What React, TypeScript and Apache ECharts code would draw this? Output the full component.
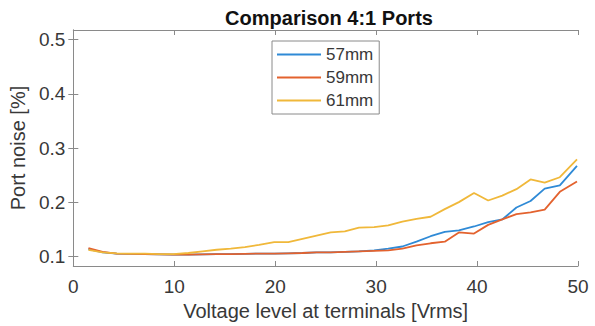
import React, { useEffect, useRef } from "react";
import * as echarts from "echarts";

const voltage = [1.5, 2.9, 4.3, 5.7, 7.1, 8.5, 9.9, 11.4, 12.8, 14.2, 15.6, 17.0, 18.4, 19.9, 21.3, 22.7, 24.1, 25.5, 26.9, 28.3, 29.8, 31.2, 32.6, 34.0, 35.4, 36.8, 38.2, 39.7, 41.1, 42.5, 43.9, 45.3, 46.7, 48.2, 49.9];

const noise57 = [0.113, 0.107, 0.105, 0.1045, 0.104, 0.1035, 0.103, 0.103, 0.1035, 0.104, 0.104, 0.1045, 0.105, 0.105, 0.1055, 0.106, 0.107, 0.107, 0.108, 0.109, 0.111, 0.114, 0.118, 0.127, 0.137, 0.145, 0.148, 0.155, 0.163, 0.168, 0.190, 0.202, 0.225, 0.231, 0.267];

const noise59 = [0.115, 0.108, 0.105, 0.1045, 0.104, 0.1035, 0.103, 0.103, 0.1035, 0.104, 0.104, 0.1045, 0.105, 0.105, 0.1055, 0.106, 0.107, 0.107, 0.108, 0.109, 0.110, 0.111, 0.114, 0.120, 0.124, 0.127, 0.144, 0.142, 0.158, 0.168, 0.178, 0.181, 0.186, 0.219, 0.238];

const noise61 = [0.112, 0.107, 0.1055, 0.105, 0.105, 0.104, 0.104, 0.106, 0.109, 0.112, 0.114, 0.117, 0.121, 0.126, 0.126, 0.132, 0.138, 0.144, 0.146, 0.153, 0.154, 0.157, 0.164, 0.169, 0.173, 0.187, 0.200, 0.217, 0.203, 0.212, 0.224, 0.242, 0.236, 0.246, 0.279];

const seriesNames = ["57mm", "59mm", "61mm"];
const seriesColors = ["#2f8ad6", "#e3622e", "#f0b83a"];
const xTicks = [0, 10, 20, 30, 40, 50];
const yTicks = [0.1, 0.2, 0.3, 0.4, 0.5];

const FONT = "'Liberation Sans', Arial, sans-serif";
const AXIS_COLOR = "#8a8a8a";
const TEXT_COLOR = "#383838";
const LINE_ICON = "path://M0,0 L0,0 M0,7.6 L44,7.6 L44,9.4 L0,9.4 Z M44,17 L44,17";

export default function App() {
  const ref = useRef<HTMLDivElement>(null);
  useEffect(() => {
    if (!ref.current) return;
    const chart = echarts.init(ref.current, undefined, { renderer: "svg" });
    const all = [noise57, noise59, noise61];
    const commonX = {
      type: "value",
      min: xTicks[0],
      max: xTicks[xTicks.length - 1],
      interval: 10,
      splitLine: { show: false },
      axisLine: { show: true, lineStyle: { color: AXIS_COLOR, width: 1 } },
      axisTick: { show: true, inside: true, length: 5, lineStyle: { color: AXIS_COLOR } },
    };
    const commonY = {
      type: "value",
      min: 0.082,
      max: 0.518,
      splitLine: { show: false },
      axisLine: { show: true, lineStyle: { color: AXIS_COLOR, width: 1 } },
      axisTick: { show: true, inside: true, length: 5, customValues: yTicks, lineStyle: { color: AXIS_COLOR } },
    };
    chart.setOption({
      animation: false,
      backgroundColor: "#ffffff",
      textStyle: { fontFamily: FONT },
      title: {
        text: "Comparison 4:1 Ports",
        left: 324,
        textAlign: "center",
        top: 3,
        textStyle: { fontFamily: FONT, fontSize: 20, fontWeight: "bold", color: "#111" },
      },
      grid: { left: 71, top: 30, right: 17, bottom: 58, containLabel: false },
      legend: {
        orient: "vertical",
        left: 272,
        top: 41,
        padding: [5, 6, 5, 5],
        itemWidth: 44,
        itemHeight: 17,
        itemGap: 6,
        backgroundColor: "#ffffff",
        borderColor: "#8a8a8a",
        borderWidth: 1,
        borderRadius: 0,
        textStyle: { fontFamily: FONT, fontSize: 17, color: TEXT_COLOR, lineHeight: 17 },
        data: seriesNames.map((n) => ({ name: n, icon: LINE_ICON })),
      },
      xAxis: [
        {
          ...commonX,
          position: "bottom",
          name: "Voltage level at terminals [Vrms]",
          nameLocation: "middle",
          nameGap: 35,
          nameTextStyle: { fontFamily: FONT, fontSize: 20, color: TEXT_COLOR },
          axisLabel: { show: true, margin: 11, fontFamily: FONT, fontSize: 19, color: TEXT_COLOR },
        },
        {
          ...commonX,
          position: "top",
          axisLabel: { show: false },
        },
      ],
      yAxis: [
        {
          ...commonY,
          position: "left",
          name: "Port noise [%]",
          nameLocation: "middle",
          nameGap: 40,
          nameTextStyle: { fontFamily: FONT, fontSize: 20, color: TEXT_COLOR },
          axisLabel: {
            show: true,
            margin: 8,
            customValues: yTicks,
            formatter: (v: number) => v.toFixed(1),
            fontFamily: FONT,
            fontSize: 19,
            color: TEXT_COLOR,
          },
        },
        {
          ...commonY,
          position: "right",
          axisLabel: { show: false },
        },
      ],
      series: seriesNames.map((name, k) => ({
        name,
        type: "line",
        xAxisIndex: 0,
        yAxisIndex: 0,
        symbol: "none",
        showSymbol: false,
        smooth: false,
        color: seriesColors[k],
        itemStyle: { color: seriesColors[k] },
        lineStyle: { width: 1.8, color: seriesColors[k] },
        data: voltage.map((v, i) => [v, all[k][i]]),
      })),
    });
    return () => chart.dispose();
  }, []);
  return <div ref={ref} style={{ width: 595, height: 326, position: "absolute", left: 0, top: 0 }} />;
}
